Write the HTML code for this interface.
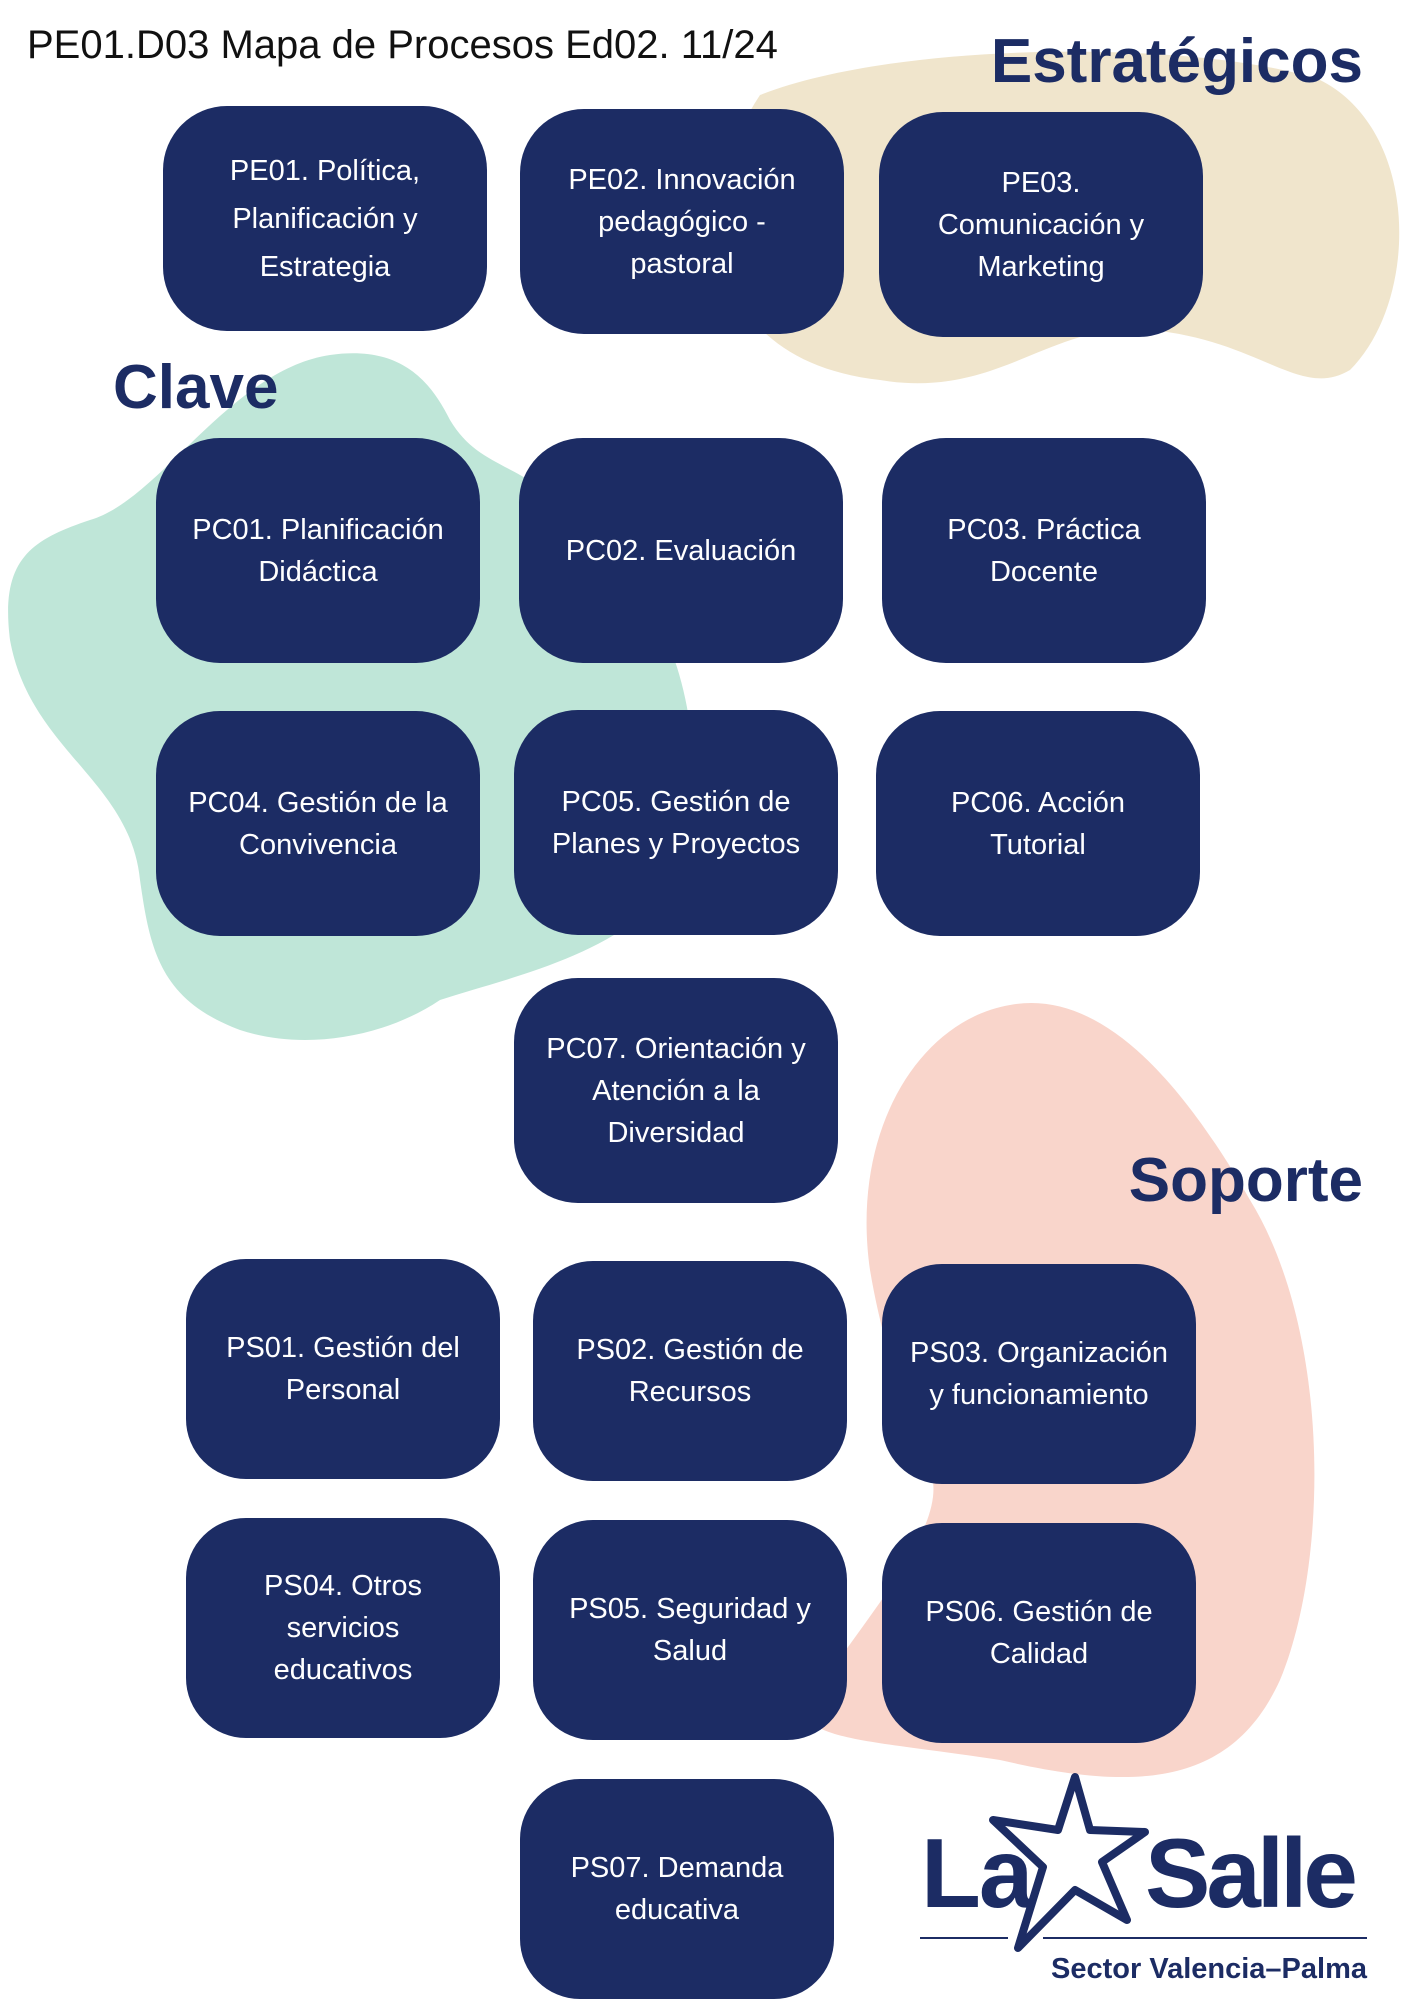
<!DOCTYPE html>
<html><head><meta charset="utf-8"><style>
body{margin:0;width:1414px;height:2000px;position:relative;background:#fff;overflow:hidden;font-family:"Liberation Sans",sans-serif}
.b{position:absolute;width:324px;height:225px;background:#1c2c64;border-radius:64px;color:#fff;display:flex;align-items:center;justify-content:center;text-align:center;font-size:29px;line-height:42px;box-sizing:border-box;padding:0 6px;white-space:nowrap}
.s{width:314px;height:220px;border-radius:60px}
.h{position:absolute;color:#1c2c64;font-weight:bold;font-size:62px}
</style></head><body>
<svg width="1414" height="2000" style="position:absolute;left:0;top:0">
<path d="M760,95 C900,40 1200,40 1320,80 C1420,130 1420,300 1350,370 C1300,400 1260,340 1150,330 C1050,320 1000,400 880,380 C700,360 690,200 760,95Z" fill="#f0e5cc"/>
<path d="M330,355 C400,345 430,380 450,420 C480,470 520,460 580,520 C700,620 720,800 660,900 C600,960 500,980 440,1000 C380,1040 300,1050 240,1030 C160,1000 150,950 140,880 C130,780 30,750 10,640 C0,560 30,540 90,520 C160,500 230,370 330,355Z" fill="#bfe6d8"/>
<path d="M1010,1005 C1090,990 1170,1060 1250,1200 C1330,1330 1330,1560 1280,1680 C1230,1790 1130,1790 1000,1760 C870,1740 790,1740 810,1700 C880,1600 950,1520 930,1470 C900,1400 880,1330 870,1270 C850,1130 920,1020 1010,1005Z" fill="#f9d5cb"/>
<g fill="#1c2c64">
<text x="921" y="1907" font-family="Liberation Sans" font-weight="bold" font-size="98" letter-spacing="-2">La</text>
<text x="1145" y="1907" font-family="Liberation Sans" font-weight="bold" font-size="98" letter-spacing="-4">Salle</text>
<text x="1367" y="1978" text-anchor="end" font-family="Liberation Sans" font-weight="bold" font-size="29">Sector Valencia–Palma</text>
<rect x="920" y="1937" width="88" height="2"/><rect x="1043" y="1937" width="324" height="2"/>
</g>
<path d="M1075,1777 L1090,1830 L1145,1832 L1102,1862 L1127,1920 L1075,1890 L1018,1948 L1043,1867 L993,1820 L1058,1830Z" fill="#fff" stroke="#1c2c64" stroke-width="8" stroke-linejoin="round"/>
</svg>
<div style="position:absolute;left:27px;top:23px;font-size:40px;color:#111">PE01.D03 Mapa de Procesos Ed02. 11/24</div>
<div class="h" style="right:51px;top:26px">Estratégicos</div>
<div class="h" style="left:113px;top:352px">Clave</div>
<div class="h" style="right:51px;top:1145px">Soporte</div>
<div class="b" style="left:163px;top:106px;line-height:48px">PE01. Política,<br>Planificación y<br>Estrategia</div>
<div class="b" style="left:520px;top:109px">PE02. Innovación<br>pedagógico -<br>pastoral</div>
<div class="b" style="left:879px;top:112px">PE03.<br>Comunicación y<br>Marketing</div>
<div class="b" style="left:156px;top:438px">PC01. Planificación<br>Didáctica</div>
<div class="b" style="left:519px;top:438px">PC02. Evaluación</div>
<div class="b" style="left:882px;top:438px">PC03. Práctica<br>Docente</div>
<div class="b" style="left:156px;top:711px">PC04. Gestión de la<br>Convivencia</div>
<div class="b" style="left:514px;top:710px">PC05. Gestión de<br>Planes y Proyectos</div>
<div class="b" style="left:876px;top:711px">PC06. Acción<br>Tutorial</div>
<div class="b" style="left:514px;top:978px">PC07. Orientación y<br>Atención a la<br>Diversidad</div>
<div class="b s" style="left:186px;top:1259px">PS01. Gestión del<br>Personal</div>
<div class="b s" style="left:533px;top:1261px">PS02. Gestión de<br>Recursos</div>
<div class="b s" style="left:882px;top:1264px">PS03. Organización<br>y funcionamiento</div>
<div class="b s" style="left:186px;top:1518px">PS04. Otros<br>servicios<br>educativos</div>
<div class="b s" style="left:533px;top:1520px">PS05. Seguridad y<br>Salud</div>
<div class="b s" style="left:882px;top:1523px">PS06. Gestión de<br>Calidad</div>
<div class="b s" style="left:520px;top:1779px">PS07. Demanda<br>educativa</div>
</body></html>
